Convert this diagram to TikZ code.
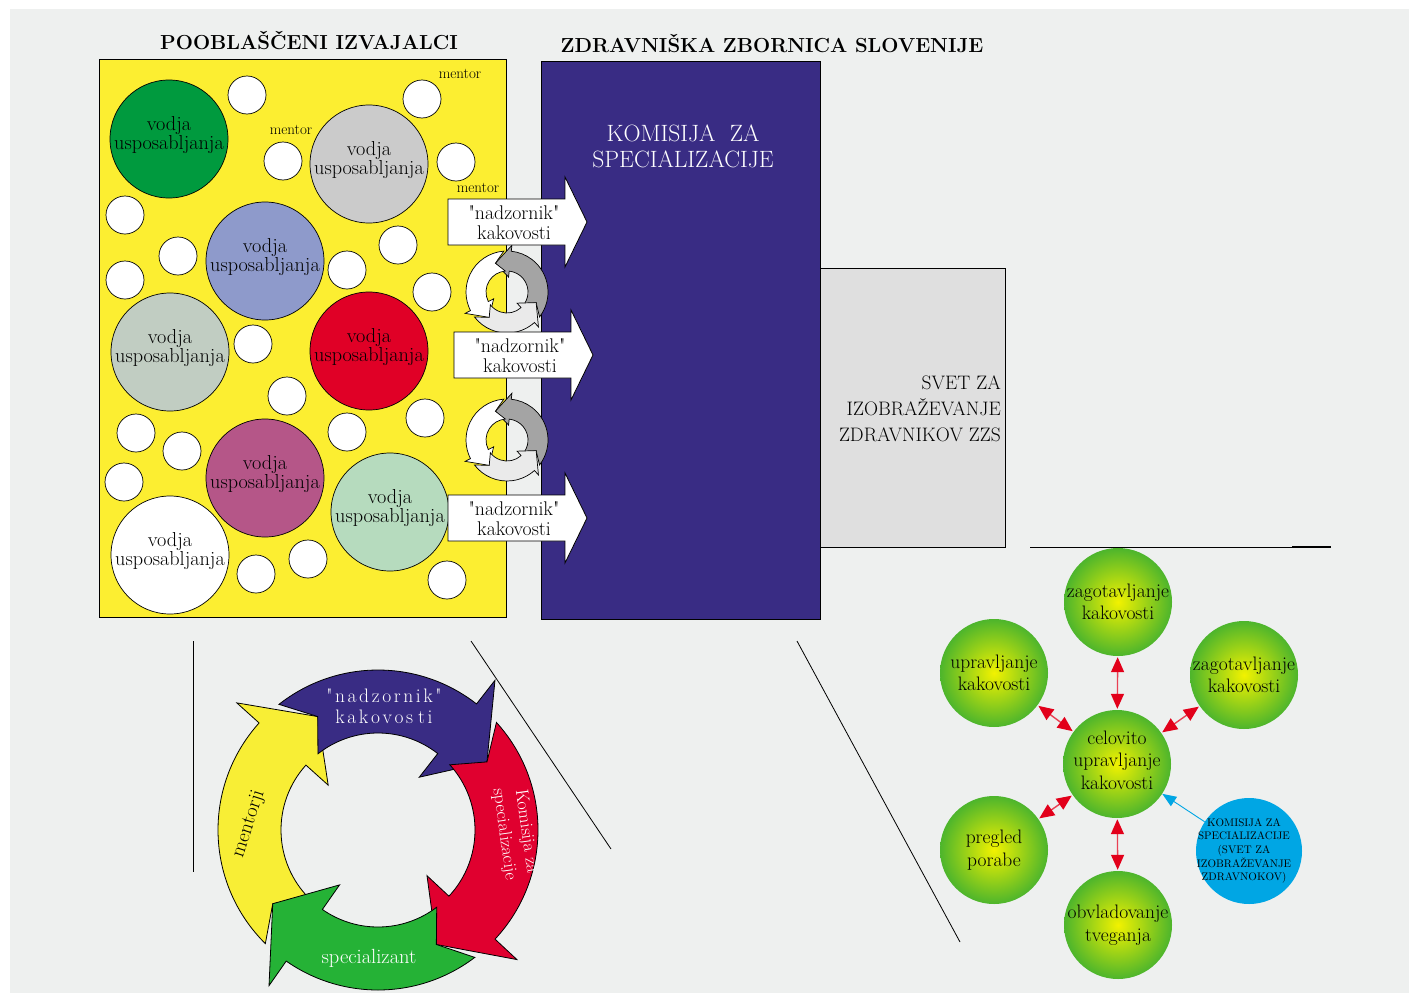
\documentclass[tikz,border=0pt]{standalone}
\usepackage{fontspec}
\setmainfont{Latin Modern Roman}[Ligatures=TeXOff]
\usetikzlibrary{arrows.meta}

\definecolor{bgpaper}{HTML}{EEF0EF}
\definecolor{izyellow}{HTML}{FCEE31}
\definecolor{zzspurple}{HTML}{392C84}
\definecolor{svetgray}{HTML}{DFDFDF}
\definecolor{vgreen}{HTML}{009A3E}
\definecolor{vgray}{HTML}{CBCBCB}
\definecolor{vblue}{HTML}{8E9ACB}
\definecolor{vsage}{HTML}{C1CDC2}
\definecolor{vred}{HTML}{E00026}
\definecolor{vplum}{HTML}{B55688}
\definecolor{vmint}{HTML}{B6DBBE}
\definecolor{cycyellow}{HTML}{F8EE35}
\definecolor{cycred}{HTML}{E0002F}
\definecolor{cycgreen}{HTML}{25B236}
\definecolor{icongray}{HTML}{A4A4A4}
\definecolor{iconlight}{HTML}{EAEAEA}
\definecolor{kakgreen}{HTML}{4DB52C}
\definecolor{kakyellow}{HTML}{F2F200}
\definecolor{kred}{HTML}{E2001A}
\definecolor{kblue}{HTML}{00A6E4}

% ring arrow: [style]{tail angle}{tip angle}{head length}{inner r}{outer r}{barb}
\newcommand{\ringarrow}[7][]{%
  \pgfmathsetmacro{\ramid}{(#5+#6)/2}%
  \pgfmathsetmacro{\rabase}{#3-#4}%
  \pgfmathsetmacro{\ranotch}{#2-#4*(#6-#5)/2/(#7+(#6-#5)/2)}%
  \draw[#1] (\ranotch:#6) arc[start angle=\ranotch, end angle=\rabase, radius=#6]
    -- (\rabase:#6+#7) -- (#3:\ramid) -- (\rabase:#5-#7) -- (\rabase:#5)
    arc[start angle=\rabase, end angle=\ranotch, radius=#5] -- (#2:\ramid) -- cycle;
}
% wide letter spacing
\newcommand{\ls}{\kern2.6pt}

\tikzset{
  titletxt/.style={font=\fontsize{20.3}{22}\selectfont\bfseries, inner sep=0pt},
  vtext/.style={font=\fontsize{20.2}{17.5}\selectfont, align=center, inner sep=0pt},
  vodja/.style={circle, draw, line width=0.7pt, minimum size=118pt, inner sep=0pt,
    label={[vtext, yshift=4pt]center:vodja\\usposabljanja}},
  mentorc/.style={circle, draw, line width=0.7pt, fill=white, minimum size=38pt, inner sep=0pt},
  mentortxt/.style={font=\fontsize{15}{15}\selectfont, inner sep=0pt},
  nadztxt/.style={font=\fontsize{19.8}{20}\selectfont, align=center, inner sep=0pt},
  cyctxt/.style={font=\fontsize{20.5}{21}\selectfont, align=center, inner sep=0pt},
  kak/.style={circle, minimum size=108pt, inner sep=0pt, shading=radial,
    inner color=kakyellow, outer color=kakgreen},
  kaktxt/.style={font=\fontsize{19.5}{22.5}\selectfont, align=center, inner sep=0pt},
  kakarr/.style={<->, >={Triangle[length=15pt,width=13pt,color=kred]}, draw=kred!75,
    line width=1.4pt, shorten <=1pt, shorten >=1pt},
  blarr/.style={-{Triangle[length=14pt,width=11pt]}, draw=kblue, line width=0.9pt}
}

\begin{document}
\begin{tikzpicture}[x=1pt,y=-1pt]
\useasboundingbox (0,0) rectangle (1413,993);
\fill[bgpaper] (10,9) rectangle (1409,993);

%%% headings
\node[titletxt, anchor=base] (tizv) at (309,49) {POOBLAŠČENI IZVAJALCI};
\node[titletxt, anchor=base] (tzzs) at (772,52) {ZDRAVNIŠKA ZBORNICA SLOVENIJE};

%%% pooblasceni izvajalci
\draw[line width=0.9pt, fill=izyellow] (99,59) rectangle (506,617);
\node[vodja, fill=vgreen] (v1) at (169,139) {};
\node[vodja, fill=vgray]  (v2) at (369,164) {};
\node[vodja, fill=vblue]  (v3) at (265,261) {};
\node[vodja, fill=vsage]  (v4) at (170,352) {};
\node[vodja, fill=vred]   (v5) at (369,351) {};
\node[vodja, fill=vplum]  (v6) at (265,478) {};
\node[vodja, fill=vmint]  (v7) at (390,512) {};
\node[vodja, fill=white]  (v8) at (170,555) {};
% mentors
\foreach \mx/\my [count=\i] in {247/95, 422/99, 283/161, 456/162, 125/215, 178/256,
    398/245, 125/280, 347/270, 432/292, 253/344, 287/396, 136/433, 182/451,
    124/482, 347/432, 425/418, 256/574, 308/559, 447/580}
  \node[mentorc] (m\i) at (\mx,\my) {};
\node[mentortxt] (lm1) at (460,74) {mentor};
\node[mentortxt] (lm2) at (291,130) {mentor};
\node[mentortxt] (lm3) at (478,188) {mentor};

%%% zbornica
\draw[line width=0.9pt, fill=svetgray] (820,268) rectangle (1005,547);
\node[font=\fontsize{19.5}{26}\selectfont, align=right, anchor=east, inner sep=0pt] (svet)
  at (1001,409) {SVET ZA\\IZOBRAŽEVANJE\\ZDRAVNIKOV ZZS};
\draw[line width=0.9pt, fill=zzspurple] (541,61) rectangle (820,619);
\node[font=\fontsize{23.6}{26}\selectfont, align=center, text=white, inner sep=0pt] (kzs)
  at (683,146) {KOMISIJA\ \ ZA\\SPECIALIZACIJE};

% small cycles
\foreach \cy [count=\i] in {292,440} {
  \begin{scope}[shift={(507,\cy)}, yscale=-1, line width=0.7pt]
    \ringarrow[fill=icongray]{-20}{112}{28}{21}{41}{6}
    \ringarrow[fill=white]{112}{235}{28}{21}{41}{6}
    \ringarrow[fill=iconlight]{235}{340}{28}{21}{41}{6}
  \end{scope}
}

% "nadzornik" arrows
\foreach \xl/\ym [count=\i] in {448/222, 454/355, 448/518} {
  \draw[line width=0.8pt, fill=white] (\xl,\ym-23) -- (\xl+117,\ym-23) -- (\xl+117,\ym-45)
    -- (\xl+139,\ym) -- (\xl+117,\ym+45) -- (\xl+117,\ym+23) -- (\xl,\ym+23) -- cycle;
  \node[nadztxt] (nk\i) at (\xl+66,\ym+1) {"nadzornik"\\kakovosti};
}

%%% separators
\draw[line width=0.8pt] (193,641) -- (193,872);
\draw[line width=0.8pt] (471,641) -- (611,849);
\draw[line width=0.8pt] (797,641) -- (960,942);
\draw[line width=0.9pt] (1030,547) -- (1331,547);
\draw[line width=1.6pt] (1292,547) -- (1331,547);

%%% big cycle
\begin{scope}[shift={(378,830)}, line width=0.8pt]
  \ringarrow[fill=cycyellow]{145}{242}{20}{97}{160}{30}
  \ringarrow[fill=zzspurple]{242}{328}{20}{97}{160}{30}
  \ringarrow[fill=cycred]{328}{423}{20}{97}{160}{30}
  \ringarrow[fill=cycgreen]{63}{145}{20}{97}{160}{30}
\end{scope}
\node[cyctxt, text=white, font=\fontsize{19.5}{21}\selectfont] (cn)
  at (384,706) {"\ls n\ls a\ls d\ls z\ls o\ls r\ls n\ls i\ls k\ls "\\
  k\ls a\ls k\ls o\ls v\ls o\ls s\kern5pt t\ls i};
\node[cyctxt, rotate=72] (cm) at (249,824) {mentorji};
\node[cyctxt, text=white, rotate=-82, font=\fontsize{18}{22}\selectfont] (ck)
  at (515,833) {Komisija za\\specializacije};
\node[cyctxt, text=white] (cs) at (369,958) {specializant};

%%% kakovost
\node[kak, label={[kaktxt, yshift=4pt]center:celovito\\upravljanje\\kakovosti}] (kc) at (1117,764) {};
\node[kak, label={[kaktxt]center:zagotavljanje\\kakovosti}] (kt) at (1118,602) {};
\node[kak, label={[kaktxt]center:upravljanje\\kakovosti}] (kl) at (994,673) {};
\node[kak, label={[kaktxt]center:zagotavljanje\\kakovosti}] (kr) at (1244,675) {};
\node[kak, label={[kaktxt]center:pregled\\porabe}] (kp) at (994,850) {};
\node[kak, label={[kaktxt]center:obvladovanje\\tveganja}] (kb) at (1118,925) {};
\node[circle, fill=kblue, minimum size=106pt, inner sep=0pt,
  label={[font=\fontsize{11}{13.7}\selectfont, align=center, inner sep=0pt, xshift=-5pt]center:KOMISIJA ZA\\SPECIALIZACIJE\\(SVET ZA\\IZOBRAŽEVANJE\\ZDRAVNOKOV)}]
  (kom) at (1249,851) {};
\draw[kakarr] (kt) -- (kc);
\draw[kakarr] (kb) -- (kc);
\draw[kakarr] (kl) -- (kc);
\draw[kakarr] (kr) -- (kc);
\draw[kakarr] (kp) -- (kc);
\draw[blarr] (kom) -- (kc);
\end{tikzpicture}
\end{document}
